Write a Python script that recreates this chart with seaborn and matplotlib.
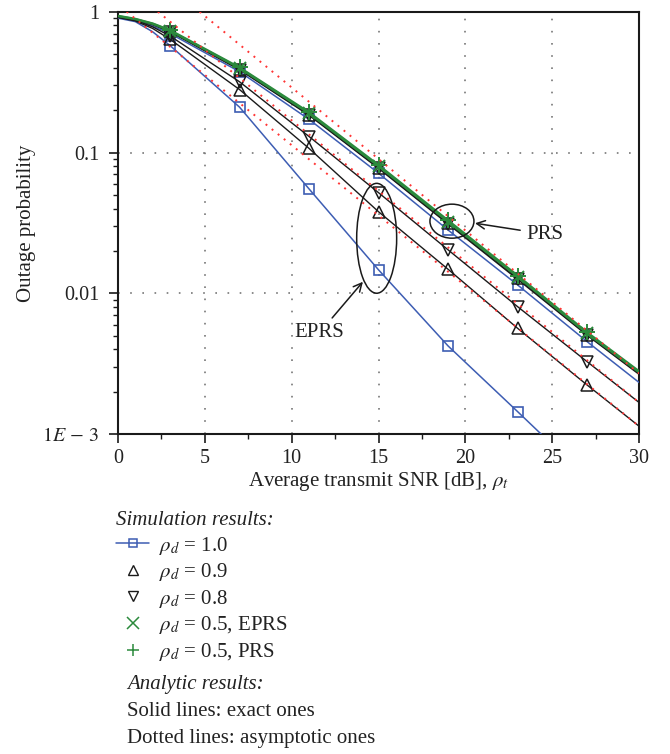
import matplotlib
matplotlib.use("Agg")
import matplotlib.pyplot as plt
import seaborn as sns
from matplotlib.lines import Line2D
from matplotlib.patches import Ellipse

# =========================
# DATA
# =========================
snr = [0, 1, 2, 3, 7, 11, 15, 19, 23, 27, 30]

# EPRS, exact + simulation
eprs_10 = [0.90, 0.85, 0.72, 0.575, 0.21, 0.0552, 0.0147, 0.00424, 0.00145, 0.00049, 0.00022]
eprs_09 = [0.91, 0.86, 0.76, 0.637, 0.28, 0.107, 0.038, 0.01485, 0.00566, 0.00224, 0.00114]
eprs_08 = [0.915, 0.87, 0.78, 0.672, 0.318, 0.130, 0.0519, 0.0204, 0.00806, 0.00328, 0.00168]
eprs_05 = [0.93, 0.885, 0.82, 0.733, 0.397, 0.19, 0.080, 0.0323, 0.01316, 0.0052, 0.00275]

# PRS, exact + simulation
prs_10 = [0.91, 0.87, 0.79, 0.70, 0.375, 0.172, 0.0713, 0.0282, 0.0115, 0.00455, 0.00233]
prs_09 = [0.925, 0.88, 0.81, 0.725, 0.39, 0.186, 0.078, 0.0315, 0.0128, 0.0051, 0.0027]
prs_08 = [0.925, 0.88, 0.81, 0.72, 0.387, 0.184, 0.0772, 0.0311, 0.0126, 0.00505, 0.00266]
prs_05 = [0.935, 0.89, 0.825, 0.74, 0.402, 0.193, 0.0815, 0.0330, 0.0134, 0.0053, 0.0028]

# asymptotic (dotted) lines
asym_prs_x = [4.7, 30]
asym_prs_y = [1.0, 0.0027]
asym_08_x = [2.3, 30]
asym_08_y = [1.0, 0.00168]
asym_09_x = [0.5, 30]
asym_09_y = [1.0, 0.00114]

x_ticks = [0, 5, 10, 15, 20, 25, 30]
y_ticks = [1e-3, 1e-2, 1e-1, 1]
y_tick_labels = [r"$1E\,-\,3$", "0.01", "0.1", "1"]

legend_labels = [
    r"$\rho_d$ = 1.0",
    r"$\rho_d$ = 0.9",
    r"$\rho_d$ = 0.8",
    r"$\rho_d$ = 0.5, EPRS",
    r"$\rho_d$ = 0.5, PRS",
]

# =========================
# CONFIG
# =========================
sns.set_theme(style="ticks")
plt.rcParams["font.family"] = ["Liberation Serif", "DejaVu Serif"]
plt.rcParams["mathtext.fontset"] = "stix"
plt.rcParams["axes.linewidth"] = 1.5

BLUE = "#3d5db3"
GREEN = "#2b8a3c"
RED = "#ff3535"
BLACK = "#1a1a1a"
TXT = "#222222"

fig = plt.figure(figsize=(6.7, 7.54), dpi=100)
ax = fig.add_axes([0.176, 0.424, 0.778, 0.5605])

marks = slice(3, 10)

# =========================
# EXACT CURVES + SIMULATION MARKERS
# =========================
sns.lineplot(x=snr, y=prs_10, ax=ax, color=BLUE, lw=1.1, marker="s", ms=7,
             mfc="none", markeredgecolor=BLUE, markeredgewidth=1.2,
             markevery=marks, legend=False, zorder=3)
sns.lineplot(x=snr, y=eprs_10, ax=ax, color=BLUE, lw=1.1, marker="s", ms=7,
             mfc="none", markeredgecolor=BLUE, markeredgewidth=1.2,
             markevery=marks, legend=False, zorder=3)

for vals, mk in [(eprs_09, "^"), (eprs_08, "v"), (prs_09, "^"), (prs_08, "v")]:
    sns.lineplot(x=snr, y=vals, ax=ax, color=BLACK, lw=1.0, marker=mk, ms=9,
                 mfc="none", markeredgecolor=BLACK, markeredgewidth=1.1,
                 markevery=marks, legend=False, zorder=4)

sns.lineplot(x=snr, y=eprs_05, ax=ax, color=GREEN, lw=1.6, marker="x", ms=9,
             markeredgecolor=GREEN, markeredgewidth=1.4,
             markevery=marks, legend=False, zorder=5)
sns.lineplot(x=snr, y=prs_05, ax=ax, color=GREEN, lw=1.6, marker="+", ms=11,
             markeredgecolor=GREEN, markeredgewidth=1.4,
             markevery=marks, legend=False, zorder=5)

# =========================
# ASYMPTOTES
# =========================
for xs, ys in [(asym_prs_x, asym_prs_y), (asym_08_x, asym_08_y), (asym_09_x, asym_09_y)]:
    sns.lineplot(x=xs, y=ys, ax=ax, color=RED, lw=1.4, ls=(0, (1, 3)),
                 legend=False, zorder=6)

# =========================
# AXES
# =========================
ax.set_yscale("log")
ax.set_xlim(0, 30)
ax.set_ylim(1e-3, 1)
ax.set_xticks(x_ticks)
ax.set_xticks([2.5, 7.5, 12.5, 17.5, 22.5, 27.5], minor=True)
ax.set_yticks(y_ticks)
ax.set_yticklabels(y_tick_labels)
ax.tick_params(axis="both", which="major", direction="out", length=6.3,
               width=1.2, labelsize=14.5, color=BLACK, labelcolor=TXT)
ax.tick_params(axis="x", which="major", pad=4.5)
ax.tick_params(axis="y", which="major", pad=7)
ax.tick_params(axis="both", which="minor", direction="out", length=3.5,
               width=1.0, color=BLACK)
ax.tick_params(top=False, right=False, which="both")

for s in ax.spines.values():
    s.set_color(BLACK)
    s.set_linewidth(1.5)

ax.grid(True, which="major", color="#777777", linestyle=(0, (1, 6.3)), lw=1.2)

ax.set_xlabel(r"Average transmit SNR [dB], $\rho_t$", fontsize=15, labelpad=1.5,
              color=TXT)
ax.set_ylabel("Outage probability", fontsize=15, labelpad=4, color=TXT)

# =========================
# ANNOTATIONS
# =========================
ax.add_patch(Ellipse((0.4964, 0.4638), 0.0767, 0.260, transform=ax.transAxes,
                     fill=False, ec=BLACK, lw=1.1, zorder=7))
ax.add_patch(Ellipse((0.6408, 0.5043), 0.0844, 0.0805, transform=ax.transAxes,
                     fill=False, ec=BLACK, lw=1.1, zorder=7))

ax.annotate("EPRS", xy=(14.1, 0.0121), xytext=(11.6, 0.00525), ha="center",
            va="center", fontsize=15, color=TXT,
            arrowprops=dict(arrowstyle="->", color=BLACK, lw=1.1,
                            shrinkA=2, shrinkB=0))
ax.annotate("PRS", xy=(20.55, 0.0315), xytext=(23.5, 0.0264), ha="left",
            va="center", fontsize=15, color=TXT,
            arrowprops=dict(arrowstyle="->", color=BLACK, lw=1.1,
                            shrinkA=2, shrinkB=0))

# =========================
# LEGEND
# =========================
handles = [
    Line2D([], [], color=BLUE, lw=1.1, marker="s", ms=6, mfc="none", mec=BLUE, mew=1.1),
    Line2D([], [], ls="none", marker="^", ms=7, mfc="none", mec=BLACK, mew=1.0),
    Line2D([], [], ls="none", marker="v", ms=7, mfc="none", mec=BLACK, mew=1.0),
    Line2D([], [], ls="none", marker="x", ms=8, mec=GREEN, mew=1.1),
    Line2D([], [], ls="none", marker="+", ms=9, mec=GREEN, mew=1.1),
]
leg = fig.legend(handles, legend_labels, loc="upper left",
                 bbox_to_anchor=(116 / 670, 1 - 511 / 754), frameon=False,
                 fontsize=15, title="Simulation results:",
                 title_fontproperties={"style": "italic", "size": 15},
                 alignment="left", handlelength=1.6, handletextpad=0.45,
                 labelspacing=0.22, borderpad=0, borderaxespad=0)
for t in leg.get_texts():
    t.set_color(TXT)
leg.get_title().set_color(TXT)

fig.text(126.7 / 670, 1 - 684 / 754, "Analytic results:", style="italic",
         fontsize=15, va="center", color=TXT)
fig.text(126.7 / 670, 1 - 711 / 754, "Solid lines: exact ones",
         fontsize=15, va="center", color=TXT)
fig.text(126.7 / 670, 1 - 739 / 754, "Dotted lines: asymptotic ones",
         fontsize=15, va="center", color=TXT)

fig.savefig("out.png", dpi=100)
